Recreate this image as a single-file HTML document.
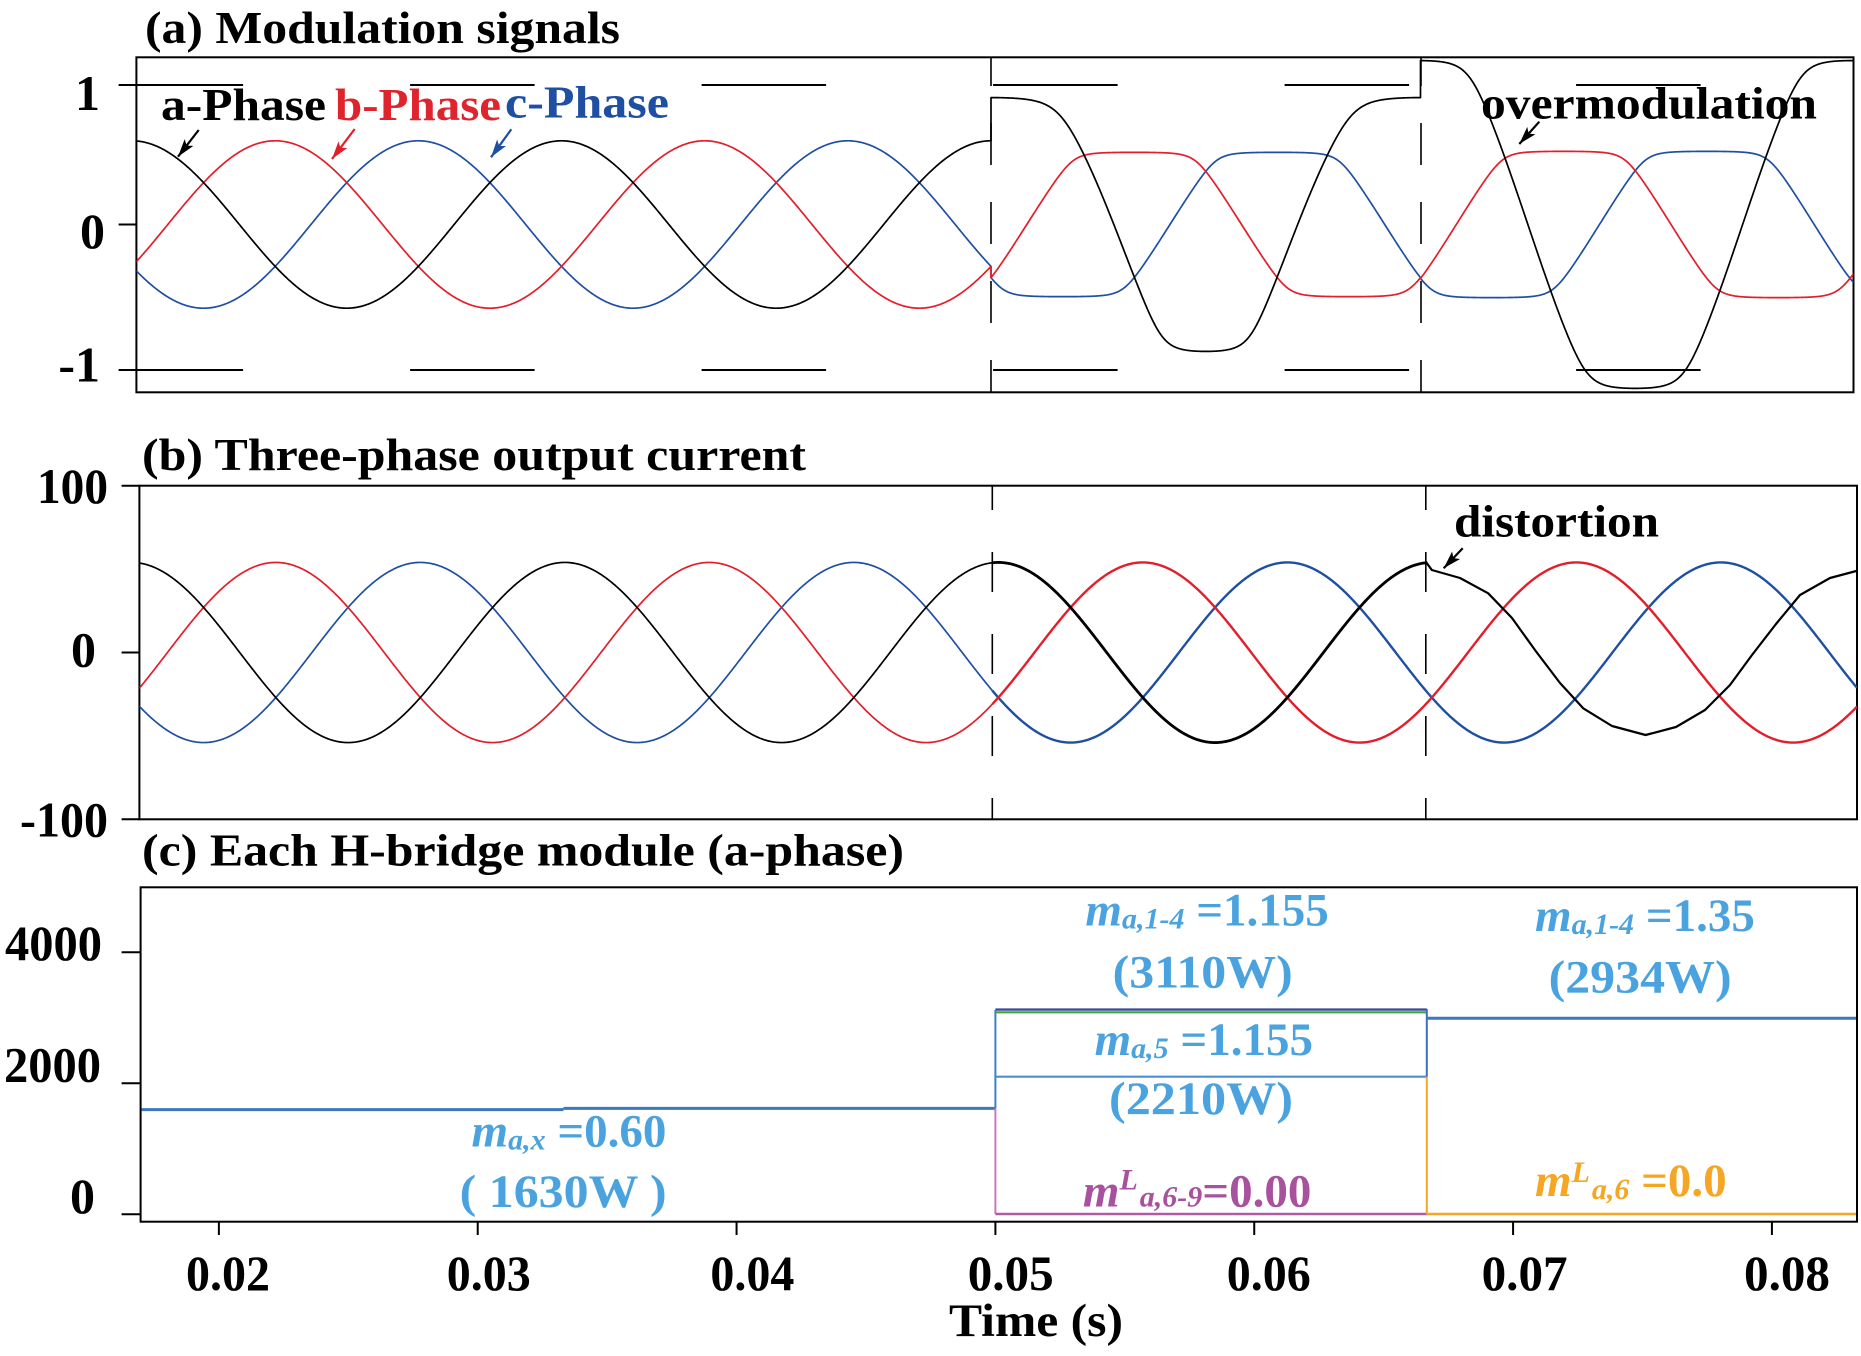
<!DOCTYPE html>
<html><head><meta charset="utf-8">
<style>
html,body{margin:0;padding:0;background:#fff;}
svg{display:block;}
text{font-family:"Liberation Serif","Times New Roman",serif;font-weight:bold;}
</style></head>
<body>
<svg id="s" width="1861" height="1356" viewBox="0 0 1861 1356" xmlns="http://www.w3.org/2000/svg">
<defs>
<marker id="mk" markerUnits="userSpaceOnUse" markerWidth="20" markerHeight="12" refX="18" refY="6" orient="auto"><path d="M0,0.5 L18,6 L0,11.5 L4,6 Z" fill="#000"/></marker>
<marker id="mr" markerUnits="userSpaceOnUse" markerWidth="20" markerHeight="12" refX="18" refY="6" orient="auto"><path d="M0,0.5 L18,6 L0,11.5 L4,6 Z" fill="#e31e2a"/></marker>
<marker id="mb" markerUnits="userSpaceOnUse" markerWidth="20" markerHeight="12" refX="18" refY="6" orient="auto"><path d="M0,0.5 L18,6 L0,11.5 L4,6 Z" fill="#1f4fa3"/></marker>
<clipPath id="ca"><rect x="136.4" y="57.3" width="1717.1" height="335"/></clipPath>
<clipPath id="cb"><rect x="139.4" y="485.7" width="1717.6" height="333.6"/></clipPath>
</defs>

<!-- Titles -->
<text x="145" y="43" font-size="46" textLength="475" lengthAdjust="spacingAndGlyphs">(a) Modulation signals</text>
<text x="142" y="470" font-size="46" textLength="664" lengthAdjust="spacingAndGlyphs">(b) Three-phase output current</text>
<text x="142" y="865.5" font-size="46" textLength="762" lengthAdjust="spacingAndGlyphs">(c) Each H-bridge module (a-phase)</text>

<!-- Panel (a) axes -->
<rect x="136.4" y="57.3" width="1717.1" height="335" fill="none" stroke="#000" stroke-width="2"/>
<line x1="118.6" y1="224.5" x2="136.4" y2="224.5" stroke="#000" stroke-width="2"/>
<line x1="118.6" y1="85" x2="1853" y2="85" stroke="#000" stroke-width="2" stroke-dasharray="124.5 167"/>
<line x1="118.6" y1="370" x2="1853" y2="370" stroke="#000" stroke-width="2" stroke-dasharray="124.5 167"/>
<line x1="991" y1="57.3" x2="991" y2="392.3" stroke="#000" stroke-width="1.6" stroke-dasharray="42 37" stroke-dashoffset="13.3"/>
<line x1="1421" y1="57.3" x2="1421" y2="392.3" stroke="#000" stroke-width="1.6" stroke-dasharray="42 37" stroke-dashoffset="13.3"/>
<text x="100" y="110" font-size="50" text-anchor="end">1</text>
<text x="105" y="248" font-size="50" text-anchor="end">0</text>
<text x="100" y="381.7" font-size="50" text-anchor="end">-1</text>
<g id="ga" clip-path="url(#ca)" fill="none"></g>
<text x="161" y="120" font-size="46" textLength="165" lengthAdjust="spacingAndGlyphs">a-Phase</text>
<text x="335" y="120" font-size="46" fill="#e0242e" textLength="166" lengthAdjust="spacingAndGlyphs">b-Phase</text>
<text x="505" y="117.3" font-size="46" fill="#1f4fa3" textLength="164" lengthAdjust="spacingAndGlyphs">c-Phase</text>
<line x1="198.7" y1="130" x2="178" y2="156.7" stroke="#000" stroke-width="2.2" marker-end="url(#mk)"/>
<line x1="354.7" y1="129" x2="332" y2="159" stroke="#e31e2a" stroke-width="2.2" marker-end="url(#mr)"/>
<line x1="511.3" y1="129.3" x2="491" y2="157.3" stroke="#1f4fa3" stroke-width="2.2" marker-end="url(#mb)"/>
<text x="1481" y="118.3" font-size="46" textLength="336" lengthAdjust="spacingAndGlyphs">overmodulation</text>
<line x1="1539.3" y1="121.7" x2="1519.3" y2="144" stroke="#000" stroke-width="2.2" marker-end="url(#mk)"/>

<!-- Panel (b) axes -->
<rect x="139.4" y="485.7" width="1717.6" height="333.6" fill="none" stroke="#000" stroke-width="2"/>
<line x1="121.6" y1="485.7" x2="139.4" y2="485.7" stroke="#000" stroke-width="2"/>
<line x1="121.6" y1="652.5" x2="139.4" y2="652.5" stroke="#000" stroke-width="2"/>
<line x1="121.6" y1="819.3" x2="139.4" y2="819.3" stroke="#000" stroke-width="2"/>
<line x1="992.3" y1="485.7" x2="992.3" y2="819.3" stroke="#000" stroke-width="1.6" stroke-dasharray="40 42" stroke-dashoffset="15.7"/>
<line x1="1425.8" y1="485.7" x2="1425.8" y2="819.3" stroke="#000" stroke-width="1.6" stroke-dasharray="40 42" stroke-dashoffset="15.7"/>
<text x="108" y="503" font-size="50" text-anchor="end" textLength="71" lengthAdjust="spacingAndGlyphs">100</text>
<text x="96" y="666.7" font-size="50" text-anchor="end">0</text>
<text x="108" y="836.7" font-size="50" text-anchor="end" textLength="88" lengthAdjust="spacingAndGlyphs">-100</text>
<g id="gb" clip-path="url(#cb)" fill="none"></g>
<text x="1454" y="536.7" font-size="46" textLength="205" lengthAdjust="spacingAndGlyphs">distortion</text>
<line x1="1462.7" y1="548.3" x2="1443.7" y2="568.3" stroke="#000" stroke-width="2.2" marker-end="url(#mk)"/>

<!-- Panel (c) -->
<rect x="140.6" y="887.3" width="1716.4" height="334.4" fill="none" stroke="#000" stroke-width="2"/>
<line x1="121.6" y1="952.3" x2="140.6" y2="952.3" stroke="#000" stroke-width="2"/>
<line x1="121.6" y1="1083.2" x2="140.6" y2="1083.2" stroke="#000" stroke-width="2"/>
<line x1="121.6" y1="1214.2" x2="140.6" y2="1214.2" stroke="#000" stroke-width="2"/>
<text x="102" y="960.2" font-size="50" text-anchor="end" textLength="97" lengthAdjust="spacingAndGlyphs">4000</text>
<text x="101" y="1081.5" font-size="50" text-anchor="end" textLength="97" lengthAdjust="spacingAndGlyphs">2000</text>
<text x="95" y="1213.2" font-size="50" text-anchor="end">0</text>
<g id="xt" stroke="#000" stroke-width="2"></g>

<!-- step lines -->
<g fill="none" stroke-linecap="butt">
<line x1="141.5" y1="1109.6" x2="563.5" y2="1109.6" stroke="#3c78be" stroke-width="3"/>
<line x1="563.5" y1="1108.4" x2="995.4" y2="1108.4" stroke="#3c78be" stroke-width="3"/>
<line x1="995.4" y1="1108.4" x2="995.4" y2="1010" stroke="#3d7fc6" stroke-width="2"/>
<line x1="995.4" y1="1108.4" x2="995.4" y2="1214" stroke="#c878bf" stroke-width="2"/>
<line x1="995.4" y1="1214" x2="1426.8" y2="1214" stroke="#b05aa6" stroke-width="2.5"/>
<line x1="995.4" y1="1012.3" x2="1426.8" y2="1012.3" stroke="#3aaa35" stroke-width="2.2"/>
<line x1="995.4" y1="1009.6" x2="1426.8" y2="1009.6" stroke="#3b4a9c" stroke-width="2.4"/>
<line x1="995.4" y1="1076.7" x2="1426.8" y2="1076.7" stroke="#4a8fd4" stroke-width="2.2"/>
<line x1="1426.8" y1="1009" x2="1426.8" y2="1076.7" stroke="#3d6fc0" stroke-width="2"/>
<line x1="1426.8" y1="1076.7" x2="1426.8" y2="1214" stroke="#f5a623" stroke-width="2"/>
<line x1="1426.8" y1="1214" x2="1856" y2="1214" stroke="#f5a623" stroke-width="2.5"/>
<line x1="1426.8" y1="1018.3" x2="1856" y2="1018.3" stroke="#3c78be" stroke-width="3"/>
</g>

<!-- annotations (c) -->
<text x="471.5" y="1146.5" font-size="47" fill="#4aa3df"><tspan font-style="italic">m</tspan><tspan font-style="italic" font-size="30" dy="3">a,x</tspan><tspan dy="-3"> =0.60</tspan></text>
<text x="459.7" y="1207" font-size="47" fill="#4aa3df" textLength="207" lengthAdjust="spacingAndGlyphs">( 1630W )</text>
<text x="1085.4" y="925.3" font-size="47" fill="#4aa3df"><tspan font-style="italic">m</tspan><tspan font-style="italic" font-size="30" dy="3">a,1-4</tspan><tspan dy="-3"> =1.155</tspan></text>
<text x="1112.7" y="987.5" font-size="47" fill="#4aa3df" textLength="180" lengthAdjust="spacingAndGlyphs">(3110W)</text>
<text x="1535" y="931" font-size="47" fill="#4aa3df"><tspan font-style="italic">m</tspan><tspan font-style="italic" font-size="30" dy="3">a,1-4</tspan><tspan dy="-3"> =1.35</tspan></text>
<text x="1548.6" y="992.6" font-size="47" fill="#4aa3df" textLength="183" lengthAdjust="spacingAndGlyphs">(2934W)</text>
<text x="1094.6" y="1055" font-size="47" fill="#4aa3df"><tspan font-style="italic">m</tspan><tspan font-style="italic" font-size="30" dy="3">a,5</tspan><tspan dy="-3"> =1.155</tspan></text>
<text x="1109" y="1114" font-size="47" fill="#4aa3df" textLength="184" lengthAdjust="spacingAndGlyphs">(2210W)</text>
<text x="1082.9" y="1206.7" font-size="47" fill="#a8529f"><tspan font-style="italic">m</tspan><tspan font-style="italic" font-size="30" dy="-17">L</tspan><tspan font-style="italic" font-size="30" dy="17" dx="2">a,6-9</tspan><tspan>=0.00</tspan></text>
<text x="1535" y="1196" font-size="47" fill="#f5a623"><tspan font-style="italic">m</tspan><tspan font-style="italic" font-size="30" dy="-14">L</tspan><tspan font-style="italic" font-size="30" dy="17" dx="2">a,6</tspan><tspan dy="-3"> =0.0</tspan></text>

<!-- x labels -->
<text x="228" y="1290" font-size="50" text-anchor="middle" textLength="84" lengthAdjust="spacingAndGlyphs">0.02</text>
<text x="488.7" y="1290" font-size="50" text-anchor="middle" textLength="84" lengthAdjust="spacingAndGlyphs">0.03</text>
<text x="752.4" y="1290" font-size="50" text-anchor="middle" textLength="84" lengthAdjust="spacingAndGlyphs">0.04</text>
<text x="1010.7" y="1290" font-size="50" text-anchor="middle" textLength="86" lengthAdjust="spacingAndGlyphs">0.05</text>
<text x="1268.7" y="1290" font-size="50" text-anchor="middle" textLength="84" lengthAdjust="spacingAndGlyphs">0.06</text>
<text x="1524.6" y="1290" font-size="50" text-anchor="middle" textLength="86" lengthAdjust="spacingAndGlyphs">0.07</text>
<text x="1787" y="1290" font-size="50" text-anchor="middle" textLength="86" lengthAdjust="spacingAndGlyphs">0.08</text>
<text x="949" y="1336" font-size="47" textLength="174" lengthAdjust="spacingAndGlyphs">Time (s)</text>
</svg>
<script>
(function(){
var NS="http://www.w3.org/2000/svg";
var W=2*Math.PI*60, T3=1/15, PH=2*Math.PI/3, OFF=[0,-PH,PH];
var COL=["#000000","#e31e2a","#1f4fa3"];
function sat(u,n){return u/Math.pow(1+Math.pow(Math.abs(u),n),1/n);}
function add(g,d,c,w){var p=document.createElementNS(NS,"path");p.setAttribute("d",d);p.setAttribute("stroke",c);p.setAttribute("stroke-width",w);p.setAttribute("fill","none");p.setAttribute("stroke-linejoin","round");g.appendChild(p);}
function build(fn,t0,t1,xf,yf,n,first){var s="";for(var i=0;i<=n;i++){var t=t0+(t1-t0)*i/n;s+=((i===0&&first)?"M":"L")+xf(t).toFixed(2)+" "+yf(fn(t)).toFixed(2);}return s;}
// Panel a
var xa=function(t){return 991+(t-0.05)*25770;}, ya=function(v){return 224.5-139.5*v;};
function ma(k,t){
  var off=OFF[k];
  if(t<0.05) return 0.6*Math.cos(W*t+off);
  if(t<T3){var p=W*(t-0.05);
    if(k===0){var q=p-0.232*Math.sin(p);return 0.925*sat(1.18/0.925*Math.cos(q),8);}
    return 0.52*sat(0.77/0.52*Math.cos(p+off),8);}
  var p2=W*(t-T3);
  if(k===0) return 1.19*sat(1.45/1.19*Math.cos(p2),10);
  return 0.527*sat(0.78/0.527*Math.cos(p2+off),8);
}
var tLa=(136.4-991)/25770+0.05, tRa=(1853.5-991)/25770+0.05;
var ga=document.getElementById("ga");
[2,1,0].forEach(function(k){
  var f=function(t){return ma(k,t);};
  var d=build(f,tLa,0.05-1e-9,xa,ya,900,true)+build(f,0.05,T3-1e-9,xa,ya,600,false)+build(f,T3,tRa,xa,ya,600,false);
  add(ga,d,COL[k],1.7);
});
// Panel b
var xb=function(t){return 992.3+(t-0.05)*26010;}, yb=function(v){return 652.5-1.668*v;};
var lag=0.0873;
function ib(k,t){return 54*Math.cos(W*t+OFF[k]-lag);}
var tLb=(139.4-992.3)/26010+0.05, tRb=(1857-992.3)/26010+0.05;
var gb=document.getElementById("gb");
[2,1].forEach(function(k){
  var f=function(t){return ib(k,t);};
  add(gb,build(f,tLb,0.05,xb,yb,900,true),COL[k],1.7);
  add(gb,build(f,0.05,tRb,xb,yb,900,true),COL[k],2.4);
});
var f0=function(t){return ib(0,t);};
add(gb,build(f0,tLb,0.05,xb,yb,900,true),"#000",1.7);
add(gb,build(f0,0.05,T3,xb,yb,600,true),"#000",2.8);
var pts=[[1425.8,561.7],[1431.8,570],[1460,578],[1488.2,593.3],[1512,618],[1535.7,651],[1560,683],[1583.2,708.3],[1612,726],[1645.6,735],[1676,727],[1705,710],[1730,685],[1752,655],[1776,624],[1800,595],[1830,578],[1860,570]];
var d="M"+pts.map(function(p){return p[0]+" "+p[1];}).join(" L");
add(gb,d,"#000",2.2);
// x ticks
var xt=document.getElementById("xt");
[0.02,0.03,0.04,0.05,0.06,0.07,0.08].forEach(function(t){
  var x=995.4+(t-0.05)*25884;
  var l=document.createElementNS(NS,"line");
  l.setAttribute("x1",x);l.setAttribute("x2",x);l.setAttribute("y1",1221.7);l.setAttribute("y2",1235);
  xt.appendChild(l);
});
})();
</script>
</body></html>
